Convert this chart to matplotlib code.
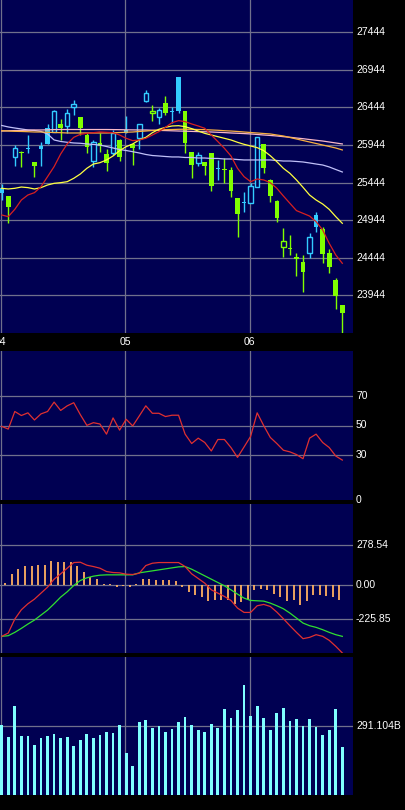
import numpy as np
import matplotlib.pyplot as plt
from matplotlib.transforms import blended_transform_factory

plt.rcParams['font.family'] = ['Liberation Sans', 'DejaVu Sans']

# ---------------------------------------------------------------
# data
# ---------------------------------------------------------------
opens = [25310, 25266, 25780, 25851, 25895, 25714, 25887, 25958, 26122, 26224,
         26201, 26445, 26317, 26077, 25736, 25975, 25820, 25842, 26011, 26108,
         25958, 26033, 26534, 26397, 26312, 26499, 26379, 26401, 26397, 25851,
         25700, 25714, 25833, 25625, 25625, 25612, 25235, 25168, 25177, 25390,
         25953, 25479, 25204, 24671, 24574, 24458, 24383, 24503, 24858, 24831,
         24503, 24148, 23815]
highs = [25425, 25266, 25944, 25864, 26077, 25714, 25989, 26224, 26410, 26290,
         26419, 26543, 26317, 26108, 26011, 26099, 25887, 26144, 26020, 26330,
         25966, 26224, 26676, 26476, 26432, 26596, 26454, 26853, 26397, 25851,
         25856, 25714, 25842, 25745, 25767, 25647, 25235, 25314, 25434, 26055,
         25953, 25487, 25212, 24835, 24747, 24503, 24481, 24769, 25057, 24858,
         24556, 24170, 23815]
lows = [25212, 24902, 25669, 25656, 25842, 25514, 25669, 25958, 26122, 26011,
        26099, 26343, 26077, 25842, 25656, 25856, 25603, 25811, 25736, 26099,
        25678, 25887, 26521, 26268, 26219, 26343, 26232, 26366, 25842, 25510,
        25669, 25545, 25332, 25479, 25434, 25257, 24725, 25048, 25168, 25381,
        25567, 25190, 24924, 24458, 24481, 24206, 23993, 24445, 24791, 24379,
        24246, 23758, 23447]
closes = [25368, 25124, 25900, 25842, 25904, 25669, 25931, 26166, 26397, 26175,
          26366, 26485, 26175, 25922, 25980, 25931, 25700, 26108, 25789, 26144,
          25909, 26224, 26632, 26366, 26410, 26366, 26388, 26845, 25975, 25678,
          25811, 25669, 25403, 25643, 25616, 25337, 25022, 25190, 25403, 26046,
          25643, 25266, 24969, 24583, 24556, 24423, 24259, 24716, 25013, 24494,
          24325, 23940, 23705]
# candles drawn as outlines in the reference
hollow = [2, 8, 10, 11, 14, 17, 21, 22, 23, 24, 30, 38, 39, 43, 47]

ma_red = [25013, 24991, 25088, 25212, 25279, 25310, 25390, 25523, 25656, 25824,
          25958, 26046, 26086, 26099, 26108, 26117, 26113, 26108, 26077, 26033,
          26002, 26011, 26033, 26077, 26122, 26179, 26241, 26268, 26255, 26224,
          26197, 26166, 26077, 25989, 25900, 25798, 25634, 25523, 25456, 25492,
          25479, 25443, 25368, 25266, 25168, 25071, 25035, 24999, 24924, 24813,
          24636, 24481, 24370]
ma_yellow = [25368, 25359, 25368, 25385, 25377, 25359, 25377, 25412, 25434, 25443,
             25456, 25501, 25558, 25634, 25691, 25709, 25745, 25798, 25869, 25922,
             25958, 26011, 26046, 26108, 26153, 26179, 26197, 26201, 26188, 26162,
             26130, 26099, 26077, 26055, 26033, 26011, 25980, 25953, 25931, 25909,
             25869, 25802, 25722, 25634, 25567, 25479, 25381, 25279, 25212, 25159,
             25088, 24991, 24902]
ma_orange = [26134, 26130, 26126, 26124, 26121, 26117, 26117, 26113, 26110, 26108,
             26104, 26104, 26104, 26104, 26104, 26104, 26104, 26106, 26110, 26114,
             26117, 26124, 26130, 26137, 26144, 26148, 26150, 26153, 26154, 26153,
             26150, 26148, 26144, 26140, 26134, 26130, 26124, 26117, 26110, 26104,
             26097, 26091, 26077, 26064, 26044, 26024, 26004, 25984, 25964, 25944,
             25924, 25904, 25878]
ma_pink = [26130, 26133, 26136, 26138, 26141, 26144, 26144, 26146, 26149, 26150,
           26150, 26150, 26150, 26150, 26150, 26150, 26150, 26149, 26148, 26146,
           26145, 26144, 26144, 26141, 26138, 26136, 26133, 26130, 26128, 26125,
           26122, 26120, 26117, 26113, 26109, 26104, 26100, 26096, 26091, 26084,
           26077, 26071, 26064, 26055, 26047, 26037, 26028, 26017, 26007, 25997,
           25984, 25971, 25958]
ma_lavender = [26204, 26184, 26170, 26157, 26144, 26137, 26124, 26091, 26011, 25991,
               25980, 25971, 25967, 25958, 25951, 25944, 25924, 25904, 25884, 25871,
               25855, 25838, 25818, 25804, 25798, 25791, 25785, 25785, 25778, 25778,
               25771, 25771, 25765, 25765, 25758, 25758, 25751, 25745, 25745, 25745,
               25745, 25745, 25738, 25731, 25731, 25725, 25718, 25705, 25691, 25678,
               25652, 25618, 25585]

rsi = [49.4, 47.6, 59.4, 56.7, 58.5, 53.7, 57.8, 59.4, 65.7, 60.1,
       63.2, 65.3, 57.3, 50.1, 51.9, 51.0, 44.2, 55.1, 46.9, 54.2,
       49.7, 56.4, 63.2, 58.2, 58.2, 56.0, 56.9, 56.9, 44.2, 37.9,
       41.5, 38.6, 32.9, 40.6, 40.6, 35.2, 28.6, 35.6, 42.7, 58.5,
       49.9, 42.0, 37.9, 33.4, 32.3, 30.5, 27.7, 41.5, 44.2, 38.6,
       35.2, 29.5, 26.8]

dif = [-345.8, -323.2, -228.3, -165.0, -124.3, -92.7, -52.0, -11.3, 42.9, 79.1,
       117.5, 155.9, 158.2, 137.9, 128.8, 117.5, 94.9, 88.1, 85.9, 76.8,
       74.6, 83.6, 135.6, 151.4, 155.9, 155.9, 155.9, 155.9, 128.8, 79.1,
       47.5, 15.8, -29.4, -52.0, -74.6, -101.7, -153.7, -183.1, -183.1, -137.9,
       -128.8, -142.4, -180.8, -226.0, -273.5, -318.7, -361.6, -352.6, -334.5, -345.8,
       -372.9, -413.6, -458.8]
dea = [-345.8, -341.3, -318.7, -291.5, -262.2, -235.0, -201.1, -167.2, -124.3, -79.1,
       -42.9, 0.0, 33.9, 52.0, 63.3, 70.1, 72.3, 72.3, 72.3, 72.3,
       72.3, 85.9, 92.7, 99.4, 106.2, 113.0, 119.8, 126.6, 128.8, 110.7,
       88.1, 65.5, 42.9, 20.3, -2.3, -29.4, -58.8, -85.9, -101.7, -104.0,
       -106.2, -119.8, -137.9, -158.2, -187.6, -221.5, -255.4, -273.5, -284.8, -300.6,
       -318.7, -334.5, -345.8]
macd_hist = [0, 20, 79, 113, 133, 133, 140, 140, 167, 163,
             163, 163, 133, 95, 61, 45, 11, 9, -7, -2,
             -7, 11, 45, 45, 38, 38, 34, 29, -11, -47,
             -63, -81, -108, -102, -97, -97, -124, -115, -97, -34,
             -25, -29, -57, -81, -104, -97, -131, -104, -63, -63,
             -70, -81, -102]

volume = [295.3, 246.1, 376.9, 250.3, 250.3, 212.4, 241.9, 250.3, 257.4, 241.9,
          244.7, 208.1, 232.0, 258.8, 241.9, 253.1, 267.2, 263.0, 295.3, 178.6,
          123.8, 309.4, 316.4, 284.1, 292.5, 265.8, 279.9, 309.4, 330.5, 295.3,
          274.2, 267.2, 299.5, 284.1, 362.8, 326.3, 360.0, 465.5, 333.3, 376.9,
          326.3, 275.6, 345.9, 368.4, 313.6, 322.0, 292.5, 322.0, 288.3, 254.5,
          275.6, 362.8, 203.9]

month_start = [0, 19, 38]
month_labels = ['04', '05', '06']

price_ticks = [23944, 24444, 24944, 25444, 25944, 26444, 26944, 27444]
rsi_ticks = [70, 50, 30]
macd_ticks = [278.54, 0.0, -225.85]
macd_labels = ['278.54', '0.00', '-225.85']
vol_tick = 291.104

# ---------------------------------------------------------------
# styles
# ---------------------------------------------------------------
NAVY = '#000052'
GRID = '#70708c'
CYAN = '#33ccff'
GREEN = '#80ff00'
FS = 7.5

W, H = 405, 810
fig = plt.figure(figsize=(W / 100, H / 100), dpi=100, facecolor='black')


def panel(top, bottom):
    ax = fig.add_axes([0, (H - bottom) / H, 353 / W, (bottom - top) / H])
    ax.set_facecolor(NAVY)
    ax.set_xlim(-0.26, 53.63)
    ax.set_xticks([])
    ax.set_yticks([])
    for s in ax.spines.values():
        s.set_visible(False)
    for m in month_start:
        ax.axvline(m - 0.15, color=GRID, lw=0.9, zorder=1)
    return ax


def right_label(ax, y, txt):
    tr = blended_transform_factory(ax.transAxes, ax.transData)
    ax.text(1.0085, y, txt, transform=tr, color='white', fontsize=FS,
            ha='left', va='center', clip_on=False)


ax_p = panel(0, 333)
ax_r = panel(351, 500)
ax_m = panel(504, 653)
ax_v = panel(657, 795)

# ---------------------------------------------------------------
# 1. price + moving averages
# ---------------------------------------------------------------
x = np.arange(len(closes))
o, h, l, c = (np.array(a, dtype=float) for a in (opens, highs, lows, closes))
cols = np.where(c >= o, CYAN, GREEN)

ax_p.set_ylim(23443, 27873)
for t in price_ticks:
    ax_p.axhline(t, color=GRID, lw=0.9, zorder=1)
    right_label(ax_p, t, str(t))

ax_p.vlines(x, l, h, colors=cols, lw=1.0, zorder=2)
for i in x:
    bot = min(o[i], c[i])
    hgt = max(abs(c[i] - o[i]), 12)
    if i in hollow:
        ax_p.bar(i, hgt, 0.7, bot, facecolor=NAVY, edgecolor=cols[i], lw=1.0, zorder=3)
    else:
        ax_p.bar(i, hgt, 0.7, bot, color=cols[i], lw=0, zorder=3)

ax_p.plot(x, ma_lavender, color='#c0c0f8', lw=0.9, zorder=4)
ax_p.plot(x, ma_pink, color='#f8b8c8', lw=0.9, zorder=4)
ax_p.plot(x, ma_orange, color='#f8b040', lw=0.9, zorder=4)
ax_p.plot(x, ma_yellow, color='#ffff40', lw=0.9, zorder=4)
ax_p.plot(x, ma_red, color='#d82020', lw=0.9, zorder=4)

# month labels in the black strip under the price panel
# (the first one sits on the left edge and is partly cut, as in the original)
tr_x = blended_transform_factory(ax_p.transData, ax_p.transAxes)
for m, lab in zip(month_start, month_labels):
    ax_p.text(m - 0.15, -0.027, lab, transform=tr_x, color='white', fontsize=FS,
              ha='center', va='center', clip_on=False)

# ---------------------------------------------------------------
# 2. RSI
# ---------------------------------------------------------------
ax_r.set_ylim(0, 100)
for t in rsi_ticks:
    ax_r.axhline(t, color=GRID, lw=0.9, zorder=1)
    right_label(ax_r, t, str(t))
right_label(ax_r, 0, '0')
ax_r.plot(x, rsi, color='#e03030', lw=0.9, zorder=3)

# ---------------------------------------------------------------
# 3. MACD
# ---------------------------------------------------------------
ax_m.set_ylim(-459, 554)
for t, lab in zip(macd_ticks, macd_labels):
    ax_m.axhline(t, color=GRID, lw=0.9, zorder=1)
    right_label(ax_m, t, lab)
ax_m.vlines(x[1:] - 0.45, 0, macd_hist[1:], colors='#ffb060', lw=1.3, zorder=2)
ax_m.plot(x, dea, color='#30e030', lw=0.9, zorder=3)
ax_m.plot(x, dif, color='#e03030', lw=0.9, zorder=4)

# ---------------------------------------------------------------
# 4. volume
# ---------------------------------------------------------------
ax_v.set_ylim(0, 2 * vol_tick)
ax_v.axhline(vol_tick, color=GRID, lw=0.9, zorder=1)
right_label(ax_v, vol_tick, '291.104B')
ax_v.bar(x, volume, width=0.42, color='#80ffff', lw=0, zorder=2)

fig.savefig('out.png', dpi=100, facecolor='black')
